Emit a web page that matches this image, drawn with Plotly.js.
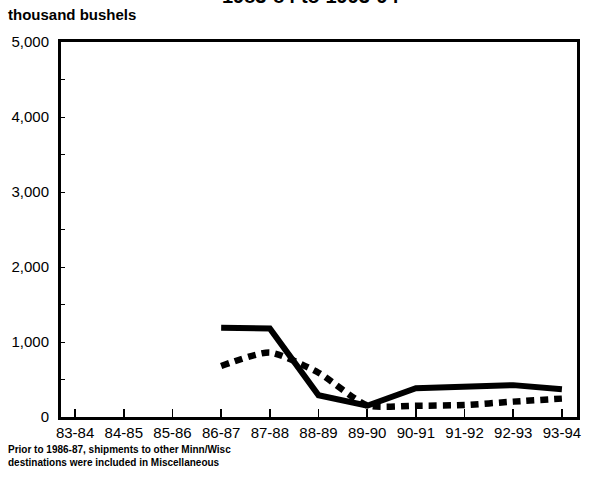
<!DOCTYPE html>
<html>
<head>
<meta charset="utf-8">
<script src="https://cdn.plot.ly/plotly-3.0.1.min.js"></script>
<style>body{margin:0;background:#fff}#chart{width:598px;height:477px}</style>
</head>
<body>
<div id="chart"></div>
<script>
const years = ["83-84","84-85","85-86","86-87","87-88","88-89","89-90","90-91","91-92","92-93","93-94"];
const solidSeries = [null,null,null,1190,1180,290,150,385,395,425,370];
const dashedSeries = [null,null,null,680,860,590,155,150,160,205,245];
const yTickVals = [0,1000,2000,3000,4000,5000];
const yTickText = ["0","1,000","2,000","3,000","4,000","5,000"];

const font = "Liberation Sans, Arial, sans-serif";
const traces = [
  {x: years, y: solidSeries, type: "scatter", mode: "lines",
   line: {color: "#000", width: 6}, connectgaps: false, hoverinfo: "skip"},
  {x: years, y: dashedSeries, type: "scatter", mode: "lines",
   line: {color: "#000", width: 6.5, dash: "8px,6px", shape: "spline", smoothing: 0.6}, hoverinfo: "skip"}
];
const layout = {
  width: 598, height: 477,
  margin: {l: 61, r: 21, t: 42, b: 60},
  paper_bgcolor: "#fff", plot_bgcolor: "#fff",
  showlegend: false,
  font: {family: font, color: "#000", size: 15},
  xaxis: {
    type: "category", categoryorder: "array", categoryarray: years,
    range: [-0.29, 10.31],
    showline: true, mirror: true, linewidth: 3, linecolor: "#000",
    ticks: "inside", ticklen: 8, tickwidth: 1.5, tickcolor: "#000",
    showgrid: false, zeroline: false,
    tickfont: {family: font, size: 15, color: "#000"}
  },
  yaxis: {
    range: [0, 5000],
    tickvals: yTickVals, ticktext: yTickText,
    showline: true, mirror: true, linewidth: 3, linecolor: "#000",
    ticks: "inside", ticklen: 4, tickwidth: 1, tickcolor: "#000",
    ticklabelstandoff: 6,
    minor: {dtick: 500, ticks: "inside", ticklen: 4, tickwidth: 1, tickcolor: "#000", showgrid: false},
    showgrid: false, zeroline: false,
    tickfont: {family: font, size: 15, color: "#000"}
  },
  annotations: [
    {text: "<b>thousand bushels</b>", xref: "paper", yref: "paper", x: -61/516, y: 1 + 17/375,
     xanchor: "left", yanchor: "bottom", showarrow: false, xshift: 6,
     font: {family: font, size: 15, color: "#000"}},
    {text: "<b>1983-84 to 1993-94</b>", xref: "paper", yref: "paper", x: 0.4845, y: 1 + 33/375,
     xanchor: "center", yanchor: "bottom", showarrow: false,
     font: {family: font, size: 20, color: "#000"}},
    {text: "<b>Prior to 1986-87, shipments to other Minn/Wisc<br>destinations were included in Miscellaneous</b>",
     xref: "paper", yref: "paper", x: -61/516, y: -25/375, xshift: 6,
     xanchor: "left", yanchor: "top", align: "left", showarrow: false,
     font: {family: font, size: 10, color: "#000"}}
  ]
};
Plotly.newPlot("chart", traces, layout, {staticPlot: true, displayModeBar: false});
</script>
</body>
</html>
